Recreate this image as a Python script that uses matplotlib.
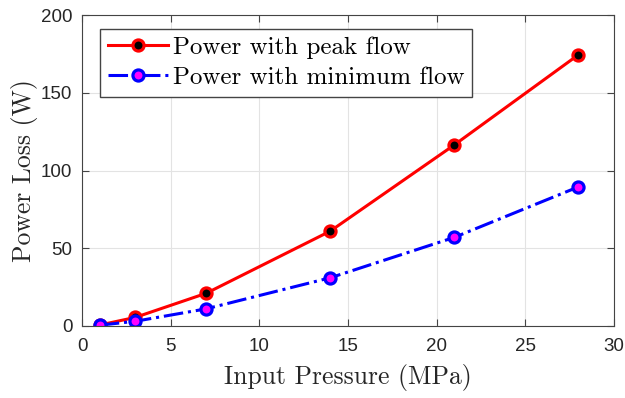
import numpy as np
import matplotlib.pyplot as plt

pressure = [1, 3, 7, 14, 21, 28]
loss_peak = [0.6, 5.5, 21, 61, 116.5, 174.5]
loss_min = [0.5, 3, 11, 31, 57, 89.5]

fig = plt.figure(figsize=(6.25, 3.98), dpi=100)
ax = fig.add_axes([0.1312, 0.181, 0.851, 0.781])

ax.plot(pressure, loss_peak, '-', color='#ff0000', lw=2.2, marker='o', ms=8,
        mfc='black', mec='#ff0000', mew=2.3, label='Power with peak flow')
ax.plot(pressure, loss_min, '-.', color='#0000ff', lw=2.2, marker='o', ms=8,
        mfc='#ff00ff', mec='#0000ff', mew=2.3, label='Power with minimum flow')

ax.set_xlim(0, 30)
ax.set_ylim(0, 200)
ax.set_xticks([0, 5, 10, 15, 20, 25, 30])
ax.set_yticks([0, 50, 100, 150, 200])
ax.grid(True, color='#e3e3e3', lw=0.8)
ax.set_axisbelow(True)
ax.tick_params(labelsize=13.5, labelcolor='#262626', direction='in', top=True, right=True,
               color='#444444', length=5)
ax.tick_params(axis='x', pad=9)
ax.tick_params(axis='y', pad=7)
for lab in ax.get_xticklabels() + ax.get_yticklabels():
    lab.set_family('Liberation Sans')
for s in ax.spines.values():
    s.set_color('#444444')

ax.set_xlabel('Input Pressure (MPa)', family='cmr10', fontsize=18.5, color='#262626', labelpad=6)
ax.set_ylabel('Power Loss (W)', family='cmr10', fontsize=18.5, color='#262626', labelpad=2)

leg = ax.legend(loc='upper left', bbox_to_anchor=(0.034, 0.955), borderaxespad=0,
                prop={'family': 'cmr10', 'size': 18},
                fancybox=False, framealpha=1, edgecolor='#444444',
                handlelength=2.4, handletextpad=0.2, borderpad=0.3, labelspacing=0.3)

fig.savefig('out.png', dpi=100)
